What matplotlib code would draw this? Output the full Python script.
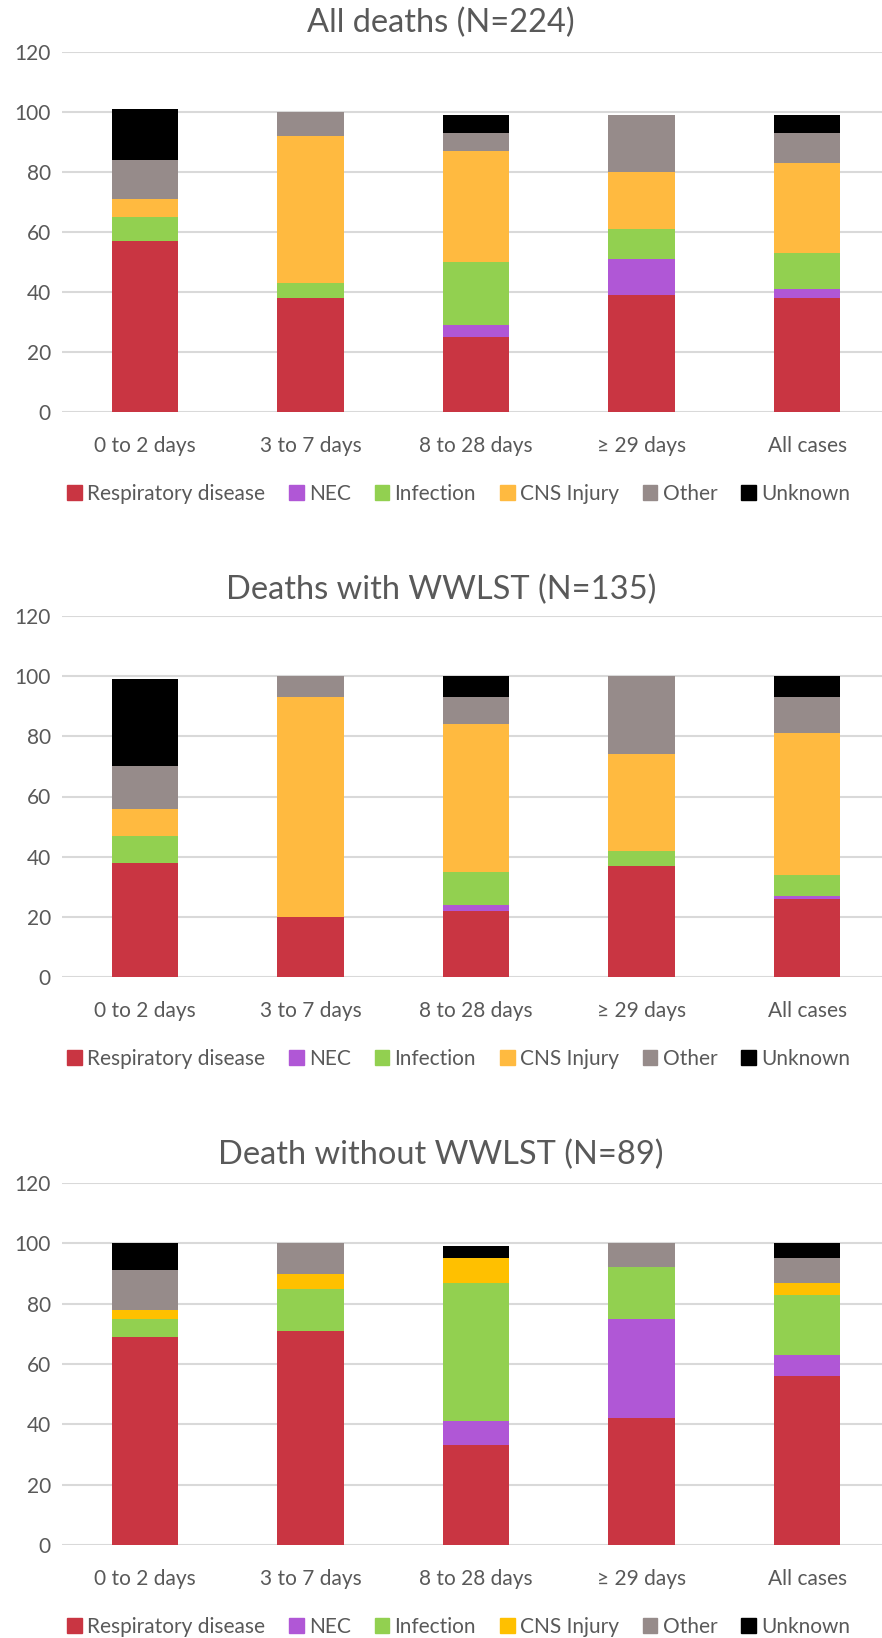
import numpy as np
import matplotlib.pyplot as plt
from matplotlib.patches import Patch

plt.rcParams['font.family'] = ['Lato', 'DejaVu Sans']

categories = ['0 to 2 days', '3 to 7 days', '8 to 28 days', '\u2265 29 days', 'All cases']
causes = ['Respiratory disease', 'NEC', 'Infection', 'CNS Injury', 'Other', 'Unknown']

# rows follow the order of causes, columns the order of categories
all_deaths = [
    [57, 38, 25, 39, 38],
    [0, 0, 4, 12, 3],
    [8, 5, 21, 10, 12],
    [6, 49, 37, 19, 30],
    [13, 8, 6, 19, 10],
    [17, 0, 6, 0, 6],
]
with_wwlst = [
    [38, 20, 22, 37, 26],
    [0, 0, 2, 0, 1],
    [9, 0, 11, 5, 7],
    [9, 73, 49, 32, 47],
    [14, 7, 9, 26, 12],
    [29, 0, 7, 0, 7],
]
without_wwlst = [
    [69, 71, 33, 42, 56],
    [0, 0, 8, 33, 7],
    [6, 14, 46, 17, 20],
    [3, 5, 8, 0, 4],
    [13, 10, 0, 8, 8],
    [9, 0, 4, 0, 5],
]

titles = ['All deaths (N=224)', 'Deaths with WWLST (N=135)', 'Death without WWLST (N=89)']
colors_a = ['#C93542', '#B057D6', '#92D050', '#FFBA40', '#968B8A', '#000000']
colors_b = ['#C93542', '#B057D6', '#92D050', '#FFC000', '#968B8A', '#000000']

W, H = 882, 1638
fig = plt.figure(figsize=(W / 100, H / 100), dpi=100)

# pixel layout: (y of 0 line, y of 120 line, title y, legend y)
layout = [(412, 52, 23, 494), (977, 616, 590, 1059), (1545, 1183, 1155, 1627)]
panels = [(all_deaths, colors_a), (with_wwlst, colors_a), (without_wwlst, colors_b)]

x = np.arange(len(categories))
for (data, cols), (y0, y120, ty, ly), title in zip(panels, layout, titles):
    ax = fig.add_axes([62 / W, 1 - y0 / H, 828 / W, (y0 - y120) / H])
    bottom = np.zeros(len(categories))
    for vals, c in zip(data, cols):
        ax.bar(x, vals, 0.4, bottom=bottom, color=c, zorder=3)
        bottom += np.array(vals)
    ax.set_xlim(-0.5, 4.5)
    ax.set_ylim(0, 120)
    ax.set_yticks(range(0, 121, 20))
    ax.set_xticks(x)
    ax.set_xticklabels(categories)
    ax.grid(axis='y', color='#D9D9D9', linewidth=1.5, zorder=0)
    for s in ax.spines.values():
        s.set_visible(False)
    ax.tick_params(length=0, labelsize=15, labelcolor='#595959')
    ax.tick_params(axis='x', pad=17)
    ax.tick_params(axis='y', pad=8)
    fig.text(0.5, 1 - ty / H, title, ha='center', va='center', fontsize=23.5, color='#595959')
    handles = [Patch(color=c, label=n) for c, n in zip(cols, causes)]
    fig.legend(handles=handles, loc='center', bbox_to_anchor=(0.52, 1 - ly / H), ncol=6,
               frameon=False, fontsize=15, handlelength=0.7, handleheight=0.7,
               handletextpad=0.25, columnspacing=1.15, labelcolor='#595959')

fig.savefig('out.png', dpi=100)
